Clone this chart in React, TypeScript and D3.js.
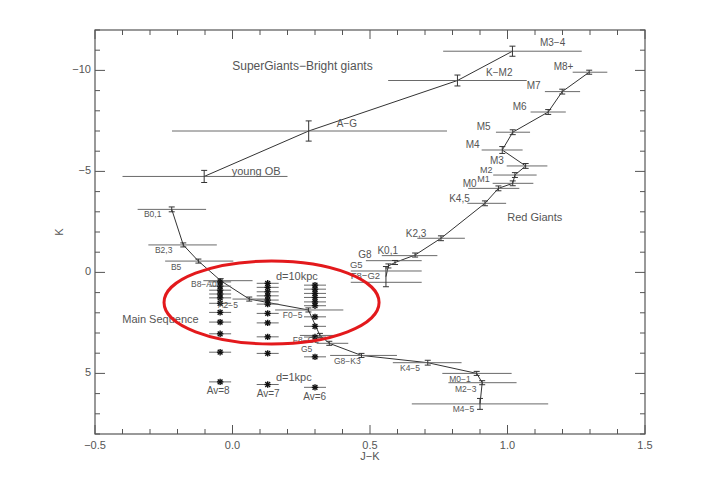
import React from "react";
import * as d3 from "d3";

// ---------- DATA ----------
// Supergiants / bright giants sequence
const sgLabels = ["young OB", "A−G", "K−M2", "M3−4"];
const sgJK = [-0.103, 0.277, 0.818, 1.018];
const sgK = [-4.75, -7.0, -9.5, -10.95];
const sgJKLo = [-0.4, -0.22, 0.566, 0.766];
const sgJKHi = [0.2, 0.78, 1.07, 1.27];
const sgKErr = [0.3, 0.5, 0.27, 0.25];

// Red giants sequence
const rgLabels = ["F8−G2", "G5", "G8", "K0,1", "K2,3", "K4,5", "M0", "M1", "M2", "M3", "M4", "M5", "M6", "M7", "M8+"];
const rgJK = [0.558, 0.567, 0.591, 0.664, 0.758, 0.918, 0.967, 1.019, 1.027, 1.066, 0.981, 1.019, 1.148, 1.199, 1.297];
const rgK = [0.21, -0.32, -0.49, -0.86, -1.69, -3.42, -4.16, -4.41, -4.82, -5.27, -6.06, -6.94, -7.94, -8.95, -9.91];
const rgBarK = [0.49, -0.07, -0.58, -0.83, -1.69, -3.42, -4.16, -4.41, -4.82, -5.27, -6.06, -6.94, -7.94, -8.95, -9.91];
const rgJKLo = [0.43, 0.43, 0.485, 0.543, 0.672, 0.854, 0.857, 0.946, 0.948, 0.997, 0.906, 0.958, 1.084, 1.136, 1.237];
const rgJKHi = [0.688, 0.688, 0.688, 0.745, 0.845, 0.995, 1.043, 1.094, 1.106, 1.145, 1.055, 1.082, 1.212, 1.264, 1.363];
const rgKErr = [0.5, 0.1, 0.1, 0.1, 0.12, 0.12, 0.12, 0.12, 0.12, 0.12, 0.17, 0.12, 0.12, 0.12, 0.1];

// Main sequence
const msLabels = ["B0,1", "B2,3", "B5", "B8−A0", "A2−5", "F0−5", "F8−G2", "G5", "G8−K3", "K4−5", "M0−1", "M2−3", "M4−5"];
const msJK = [-0.221, -0.179, -0.124, -0.043, 0.061, 0.276, 0.318, 0.352, 0.469, 0.71, 0.888, 0.908, 0.9];
const msK = [-3.12, -1.36, -0.56, 0.41, 1.32, 1.86, 3.12, 3.51, 4.11, 4.47, 5.0, 5.46, 6.51];
const msJKLo = [-0.345, -0.306, -0.245, -0.106, 0.0, 0.155, 0.245, 0.306, 0.355, 0.583, 0.763, 0.785, 0.652];
const msJKHi = [-0.096, -0.057, 0.003, 0.073, 0.13, 0.403, 0.373, 0.421, 0.598, 0.833, 1.015, 1.033, 1.148];
const msKErr = [0.12, 0.1, 0.1, 0.1, 0.1, 0.1, 0.1, 0.1, 0.1, 0.12, 0.1, 0.1, 0.27];

// Reddened main-sequence stars at d = 10 kpc (three extinction columns)
const redColJK = [-0.045, 0.128, 0.3];
const redColK = [
  [0.47, 0.68, 0.88, 1.07, 1.26, 1.53, 1.98, 2.46, 3.04, 3.95],
  [0.54, 0.74, 0.96, 1.16, 1.37, 1.57, 2.03, 2.5, 3.19, 4.01],
  [0.63, 0.83, 1.04, 1.24, 1.46, 1.65, 2.2, 2.67, 3.2, 4.18],
];
const redJKErr = 0.04;

// d = 1 kpc stars
const nearLabels = ["Av=8", "Av=7", "Av=6"];
const nearK = [5.42, 5.55, 5.69];

// Axis ticks
const xMajor = [-0.5, 0.0, 0.5, 1.0, 1.5];
const xTickLabels = ["−0.5", "0.0", "0.5", "1.0", "1.5"];
const yMajor = [-10, -5, 0, 5];
const yTickLabels = ["−10", "−5", "0", "5"];

// Label anchors (data coords: J−K of left edge, K of text centre)
const sgLabelPos = [[-0.003, -4.97], [0.379, -7.35], [0.922, -9.87], [1.118, -11.35]];
const rgLabelPos = [[0.43, 0.2], [0.427, -0.36], [0.457, -0.83], [0.527, -1.06], [0.63, -1.9], [0.788, -3.63], [0.837, -4.38], [0.89, -4.6], [0.9, -5.06], [0.936, -5.51], [0.848, -6.27], [0.888, -7.16], [1.019, -8.17], [1.07, -9.19], [1.168, -10.13]];
const msLabelPos = [[-0.322, -2.84], [-0.282, -1.06], [-0.224, -0.25], [-0.151, 0.62], [-0.053, 1.65], [0.183, 2.16], [0.219, 3.38], [0.249, 3.81], [0.369, 4.44], [0.609, 4.78], [0.788, 5.29], [0.809, 5.79], [0.801, 6.78]];
const nearLabelPos = [[-0.094, 5.91], [0.088, 6.03], [0.257, 6.2]];
const titleTexts = ["SuperGiants−Bright giants", "Red Giants", "Main Sequence", "d=10kpc", "d=1kpc"];
const titlePos = [[-0.001, -10.18], [0.999, -2.71], [-0.401, 2.36], [0.158, 0.24], [0.158, 5.24]];

// Highlight ellipse (centre J−K, centre K, half-width J−K, half-height K)
const ellipseSpec = [0.142, 1.49, 0.391, 2.05];

// ---------- CHART ----------
const W = 708, H = 501;
const x = d3.scaleLinear().domain([-0.5, 1.5]).range([95, 645]);
const y = d3.scaleLinear().domain([-12, 8]).range([30, 434]);

const FONT = "'Liberation Sans', Arial, sans-serif";
const LINE = "#333";
const BAR = "#6a6a6a";
const TXT = "#555";

function Asterisk({ cx, cy }: { cx: number; cy: number }) {
  const r = 3.2;
  const a = r * 0.75;
  return (
    <g stroke="#111" strokeWidth={1.4}>
      <line x1={cx - r} y1={cy} x2={cx + r} y2={cy} />
      <line x1={cx} y1={cy - r} x2={cx} y2={cy + r} />
      <line x1={cx - a} y1={cy - a} x2={cx + a} y2={cy + a} />
      <line x1={cx - a} y1={cy + a} x2={cx + a} y2={cy - a} />
    </g>
  );
}

function ErrPoint({ jk, k, lo, hi, kerr, barK }: any) {
  const cx = x(jk), cy = y(k);
  const by = y(barK === undefined ? k : barK);
  const t = y(k - kerr), b = y(k + kerr);
  const cap = 3;
  return (
    <g>
      <line x1={x(lo)} y1={by} x2={x(hi)} y2={by} stroke={BAR} strokeWidth={1} />
      <g stroke={LINE} strokeWidth={1}>
        <line x1={cx} y1={t} x2={cx} y2={b} />
        <line x1={cx - cap} y1={t} x2={cx + cap} y2={t} />
        <line x1={cx - cap} y1={b} x2={cx + cap} y2={b} />
      </g>
    </g>
  );
}

const rgFont = (s: string) => (s === "M1" || s === "M2" ? 9 : s === "G5" || s === "F8−G2" ? 9.5 : 10);

export default function App() {
  const line = d3.line<[number, number]>().x((d) => x(d[0])).y((d) => y(d[1]));
  const sgPts = sgJK.map((v, i) => [v, sgK[i]] as [number, number]);
  const rgPts = rgJK.map((v, i) => [v, rgK[i]] as [number, number]);
  const msPts = msJK.map((v, i) => [v, msK[i]] as [number, number]);

  const xMinor = d3.range(-0.5, 1.5001, 0.1).filter((v) => !xMajor.some((m) => Math.abs(m - v) < 1e-6));
  const yMinor = d3.range(-12, 8.001, 1).filter((v) => !yMajor.includes(Math.round(v)));

  const [x0, x1] = x.range();
  const [y0, y1] = y.range();

  const ecx = x(ellipseSpec[0]), ecy = y(ellipseSpec[1]);
  const erx = x(ellipseSpec[0] + ellipseSpec[2]) - ecx;
  const ery = y(ellipseSpec[1] + ellipseSpec[3]) - ecy;

  return (
    <svg width={W} height={H} style={{ position: "absolute", left: 0, top: 0, background: "#fff" }} fontFamily={FONT}>
      {/* frame */}
      <rect x={x0} y={y0} width={x1 - x0} height={y1 - y0} fill="none" stroke="#555" strokeWidth={1.2} />
      {/* ticks */}
      <g stroke="#555" strokeWidth={1}>
        {xMajor.map((v) => (
          <g key={"xM" + v}>
            <line x1={x(v)} x2={x(v)} y1={y1} y2={y1 - 9} />
            <line x1={x(v)} x2={x(v)} y1={y0} y2={y0 + 9} />
          </g>
        ))}
        {xMinor.map((v, i) => (
          <g key={"xm" + i}>
            <line x1={x(v)} x2={x(v)} y1={y1} y2={y1 - 5} />
            <line x1={x(v)} x2={x(v)} y1={y0} y2={y0 + 5} />
          </g>
        ))}
        {yMajor.map((v) => (
          <g key={"yM" + v}>
            <line x1={x0} x2={x0 + 10} y1={y(v)} y2={y(v)} />
            <line x1={x1} x2={x1 - 10} y1={y(v)} y2={y(v)} />
          </g>
        ))}
        {yMinor.map((v, i) => (
          <g key={"ym" + i}>
            <line x1={x0} x2={x0 + 5} y1={y(v)} y2={y(v)} />
            <line x1={x1} x2={x1 - 5} y1={y(v)} y2={y(v)} />
          </g>
        ))}
      </g>
      {/* tick labels */}
      <g fill={TXT} fontSize={11} opacity={0.999}>
        {xMajor.map((v, i) => (
          <text key={"xl" + i} x={x(v)} y={y1 + 12} textAnchor="middle" dominantBaseline="middle">{xTickLabels[i]}</text>
        ))}
        {yMajor.map((v, i) => (
          <text key={"yl" + i} x={x0 - 4} y={y(v)} textAnchor="end" dominantBaseline="middle">{yTickLabels[i]}</text>
        ))}
        <text x={x(0.5)} y={y1 + 23} textAnchor="middle" dominantBaseline="middle">J−K</text>
        <text transform={`translate(60,${(y0 + y1) / 2}) rotate(-90)`} textAnchor="middle" dominantBaseline="middle">K</text>
      </g>

      {/* sequences */}
      <path d={line(sgPts) || ""} fill="none" stroke={LINE} strokeWidth={1} />
      <path d={line(rgPts) || ""} fill="none" stroke={LINE} strokeWidth={1} />
      <path d={line(msPts) || ""} fill="none" stroke={LINE} strokeWidth={1} />
      {sgJK.map((v, i) => (
        <ErrPoint key={"sg" + i} jk={v} k={sgK[i]} lo={sgJKLo[i]} hi={sgJKHi[i]} kerr={sgKErr[i]} />
      ))}
      {rgJK.map((v, i) => (
        <ErrPoint key={"rg" + i} jk={v} k={rgK[i]} lo={rgJKLo[i]} hi={rgJKHi[i]} kerr={rgKErr[i]} barK={rgBarK[i]} />
      ))}
      {msJK.map((v, i) => (
        <ErrPoint key={"ms" + i} jk={v} k={msK[i]} lo={msJKLo[i]} hi={msJKHi[i]} kerr={msKErr[i]} />
      ))}

      {/* reddened stars */}
      {redColJK.map((jk, c) => (
        <g key={"col" + c}>
          {redColK[c].map((k, j) => (
            <g key={j}>
              <line x1={x(jk - redJKErr)} x2={x(jk + redJKErr)} y1={y(k)} y2={y(k)} stroke={BAR} strokeWidth={1} />
              <Asterisk cx={x(jk)} cy={y(k)} />
            </g>
          ))}
          <line x1={x(jk - redJKErr)} x2={x(jk + redJKErr)} y1={y(nearK[c])} y2={y(nearK[c])} stroke={BAR} strokeWidth={1} />
          <Asterisk cx={x(jk)} cy={y(nearK[c])} />
        </g>
      ))}

      {/* labels */}
      <g fill={TXT} dominantBaseline="middle" opacity={0.999}>
        {sgLabels.map((s, i) => (
          <text key={"sgl" + i} x={x(sgLabelPos[i][0])} y={y(sgLabelPos[i][1])} fontSize={i === 0 ? 11 : 10}>{s}</text>
        ))}
        {rgLabels.map((s, i) => (
          <text key={"rgl" + i} x={x(rgLabelPos[i][0])} y={y(rgLabelPos[i][1])} fontSize={rgFont(s)}>{s}</text>
        ))}
        {msLabels.map((s, i) => (
          <text key={"msl" + i} x={x(msLabelPos[i][0])} y={y(msLabelPos[i][1])} fontSize={8.5}>{s}</text>
        ))}
        {nearLabels.map((s, i) => (
          <text key={"nl" + i} x={x(nearLabelPos[i][0])} y={y(nearLabelPos[i][1])} fontSize={10}>{s}</text>
        ))}
        {titleTexts.map((s, i) => (
          <text key={"tt" + i} x={x(titlePos[i][0])} y={y(titlePos[i][1])} fontSize={i === 0 ? 12 : 11}>{s}</text>
        ))}
      </g>

      {/* highlight ellipse */}
      <ellipse cx={ecx} cy={ecy} rx={erx} ry={ery} fill="none" stroke="#e3191c" strokeWidth={3} />
    </svg>
  );
}
